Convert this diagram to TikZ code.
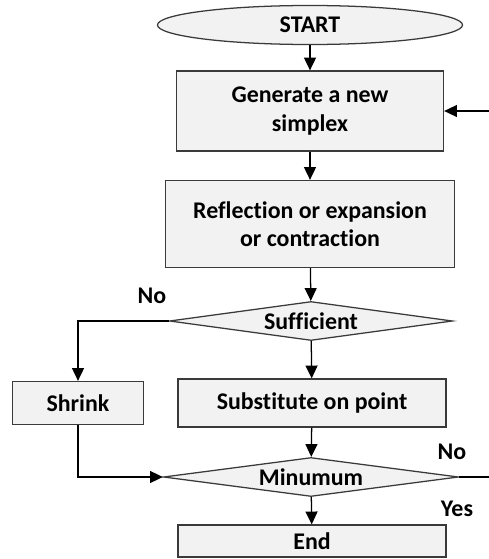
\documentclass[tikz,border=0pt]{standalone}
\usepackage{fontspec}
\setmainfont{Carlito}[Ligatures=NoCommon]
\usepackage{tikz}
\usetikzlibrary{shapes.geometric,arrows.meta}
\definecolor{boxfill}{HTML}{F2F2F2}
\definecolor{boxline}{HTML}{3A3A3A}

\begin{document}
\begin{tikzpicture}[x=0.025cm,y=-0.025cm,
							every node/.style={font=\fontsize{17}{20.3}\selectfont\bfseries,inner sep=0pt},
							procbox/.style={rectangle,draw=boxline,fill=boxfill,line width=0.9pt,align=center},
							startbox/.style={ellipse,draw=boxline,fill=boxfill,line width=0.9pt,minimum width=7.625cm,minimum height=0.975cm},
							testbox/.style={diamond,draw=boxline,fill=boxfill,line width=0.9pt,shape aspect=7.3},
							flow/.style={draw=black,line width=0.9pt,-{Triangle[length=3.2mm,width=3mm]}}]
			\useasboundingbox (0,0) rectangle (488,559);
			\node[startbox] (start) at (310,25) {START};
			\node[procbox,minimum width=6.675cm,minimum height=2cm] (generate) at (310,111) {Generate a new\\simplex};
			\node[procbox,minimum width=7.225cm,minimum height=2.175cm] (reflect) at (310,224) {Reflection or expansion\\or contraction};
			\node[testbox,minimum width=7.075cm,minimum height=0.975cm] (sufficient) at (311,321) {Sufficient};
			\node[procbox,minimum width=3.275cm,minimum height=1.075cm] (shrink) at (78,403) {Shrink};
			\node[procbox,minimum width=6.7cm,minimum height=1.2cm] (substitute) at (312,403) {Substitute on point};
			\node[testbox,minimum width=7.375cm,minimum height=0.975cm] (minimum) at (311,477) {Minumum};
			\node[procbox,minimum width=6.7cm,minimum height=0.8cm] (finish) at (312,541) {End};
			\node (nolabel) at (152,296) {No};
			\node (nolabelb) at (452,452) {No};
			\node (yeslabel) at (457,509) {Yes};
			\coordinate (loopout) at (490,477);
			\coordinate (loopin) at (490,111);
			\draw[flow] (start) -- (generate);
			\draw[flow] (generate) -- (reflect);
			\draw[flow] (reflect) -- (sufficient);
			\draw[flow] (sufficient.west) -| (shrink.north);
			\draw[flow] (sufficient) -- (substitute);
			\draw[flow] (substitute) -- (minimum);
			\draw[flow] (shrink.south) |- (minimum.west);
			\draw[flow] (minimum) -- (finish);
			\draw[draw=black,line width=0.9pt] (minimum.east) -- (loopout);
			\draw[flow] (loopin) -- (generate.east);
		\end{tikzpicture}
\end{document}
